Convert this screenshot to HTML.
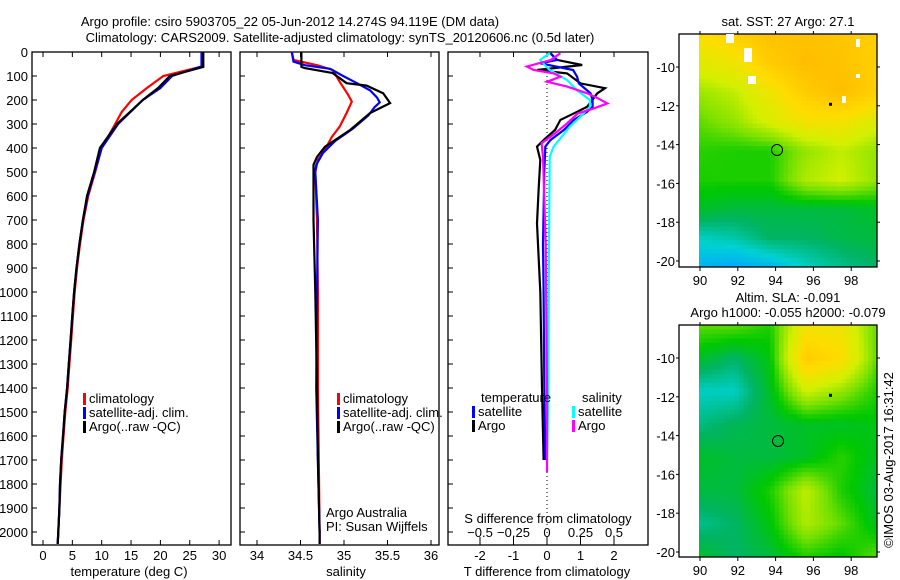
<!DOCTYPE html>
<html><head><meta charset="utf-8">
<style>
html,body{margin:0;padding:0;background:#fff;}
svg{display:block;font-family:"Liberation Sans",sans-serif;}
text{font-size:13px;fill:#000;}
</style></head>
<body>
<svg id="fig" width="900" height="580" viewBox="0 0 900 580">
<text x="290" y="26" text-anchor="middle">Argo profile: csiro 5903705_22 05-Jun-2012 14.274S 94.119E (DM data)</text>
<text x="340" y="42" text-anchor="middle">Climatology: CARS2009. Satellite-adjusted climatology: synTS_20120606.nc (0.5d later)</text>
<g id="g"></g>
</svg>
<script>
// ---- data ----
const tempClimDepth=[0,60,100,150,200,250,300,400,500,600,700,800,900,1000,1100,1200,1300,1400,1500,1600,1700,1800,1900,2000,2050];
const tempClimVal=[27.1,27.1,20.5,17.7,15.1,13.4,12.3,10,8.9,7.7,6.9,6.3,5.8,5.4,5.1,4.8,4.5,4.2,3.8,3.5,3.2,3.0,2.8,2.6,2.5];
const tempSatDepth=[0,60,100,150,200,300,400,500,600,700,800,900,1000,1100,1200,1300,1400,1500,1600,1700,1800,1900,2000,2050];
const tempSatVal=[27.0,27.0,22,20,17,12.8,10,8.8,7.6,6.8,6.2,5.7,5.3,5.0,4.7,4.4,4.1,3.7,3.4,3.1,2.9,2.8,2.6,2.5];
const tempArgoDepth=[0,62,100,150,200,300,400,500,600,700,800,900,1000,1100,1200,1300,1400,1500,1600,1700,1800,1900,2000,2050];
const tempArgoVal=[27.3,27.3,21.6,19.6,17,12.6,9.7,8.7,7.5,6.8,6.2,5.7,5.3,5.0,4.7,4.4,4.1,3.7,3.4,3.1,2.9,2.8,2.6,2.5];

const salClimDepth=[0,33,55,75,124,179,207,254,311,354,408,450,500,700,1000,1400,1700,2000,2050];
const salClimVal=[34.40,34.42,34.69,34.87,34.95,35.05,35.09,35.03,34.95,34.86,34.78,34.70,34.67,34.69,34.70,34.70,34.71,34.72,34.72];
const salSatDepth=[0,40,55,70,100,130,160,190,210,230,264,320,370,420,470,500,700,1000,1400,1700,2000,2050];
const salSatVal=[34.40,34.42,34.55,34.84,34.99,35.15,35.30,35.38,35.41,35.35,35.28,35.10,34.90,34.76,34.68,34.67,34.70,34.69,34.68,34.70,34.72,34.72];
const salArgoDepth=[0,62,67,88,130,140,172,213,254,325,395,437,470,700,1000,1400,1700,2000,2050];
const salArgoVal=[34.51,34.51,34.55,34.87,35.03,35.26,35.45,35.53,35.30,35.07,34.78,34.69,34.65,34.65,34.67,34.69,34.70,34.72,34.72];

const dTSatDepth=[5,33,47,75,103,131,172,200,228,249,283,325,367,394,500,800,1000,1400,1700];
const dTSatVal=[0.1,0.3,-0.2,0.78,0.9,0.95,1.3,1.36,1.36,1.2,0.8,0.5,0.1,-0.05,-0.08,-0.12,-0.1,-0.08,-0.05];
const dTArgoDepth=[5,33,54,75,89,131,151,172,228,249,283,325,367,394,450,575,714,1000,1400,1700];
const dTArgoVal=[0.1,0.3,1.05,-0.3,0.6,1.0,1.73,1.5,1.2,0.9,0.4,0.24,-0.1,-0.3,-0.2,-0.25,-0.3,-0.2,-0.15,-0.1];
const dSSatDepth=[5,33,47,75,117,158,200,228,269,311,353,394,436,800,1400,1750];
const dSSatVal=[0.02,-0.05,-0.03,0.02,0.15,0.22,0.32,0.32,0.25,0.17,0.11,0.05,0.02,0.015,0.01,0.0];
const dSArgoDepth=[5,33,61,75,89,103,124,144,172,193,214,235,256,297,339,380,436,800,1400,1750];
const dSArgoVal=[0.1,0.03,-0.15,-0.1,0.05,0.1,0.0,0.15,0.3,0.38,0.45,0.35,0.23,0.15,0.06,-0.04,-0.03,-0.01,0.0,0.0];

const tempTicks=[0,5,10,15,20,25,30];
const salTicks=[34,34.5,35,35.5,36];
const dTTicks=[-2,-1,0,1,2];
const dSTicks=[-0.5,-0.25,0,0.25,0.5];
const depthTicks=[0,100,200,300,400,500,600,700,800,900,1000,1100,1200,1300,1400,1500,1600,1700,1800,1900,2000];
const latTicks=[-10,-12,-14,-16,-18,-20];
const lonTicks=[90,92,94,96,98];

const sstGrid=[
[0.74,0.80,0.86,0.86,0.84,0.80],
[0.66,0.70,0.82,0.88,0.86,0.80],
[0.56,0.60,0.70,0.82,0.88,0.80],
[0.50,0.55,0.64,0.72,0.72,0.65],
[0.46,0.45,0.45,0.55,0.60,0.55],
[0.45,0.45,0.45,0.58,0.62,0.55],
[0.40,0.38,0.38,0.38,0.38,0.40],
[0.28,0.30,0.35,0.35,0.37,0.38],
[0.22,0.20,0.22,0.28,0.32,0.35]];
const slaGrid=[
[0.50,0.50,0.45,0.70,0.70,0.50],
[0.40,0.35,0.42,0.82,0.75,0.50],
[0.28,0.28,0.40,0.62,0.55,0.45],
[0.33,0.36,0.38,0.40,0.40,0.42],
[0.40,0.38,0.38,0.40,0.46,0.40],
[0.38,0.38,0.45,0.60,0.45,0.38],
[0.32,0.35,0.42,0.58,0.50,0.40],
[0.40,0.35,0.38,0.45,0.42,0.50]];

const NS='http://www.w3.org/2000/svg';
const G=document.getElementById('g');
function el(tag,attrs,parent,txt){const e=document.createElementNS(NS,tag);for(const k in attrs)e.setAttribute(k,attrs[k]);if(txt!==undefined)e.textContent=txt;(parent||G).appendChild(e);return e;}
const TOP=52,BOT=545;
function yDepth(d){return TOP+d*0.24;}

function frame(x0,x1,name){
  const r=el('rect',{x:x0,y:TOP,width:x1-x0,height:BOT-TOP,fill:'none',stroke:'#000','stroke-width':1.3});
  
  
}
function depthAxis(x0,x1,labels){
  depthTicks.forEach(d=>{
    const y=yDepth(d);
    el('line',{x1:x0,y1:y,x2:x0+5,y2:y,stroke:'#000','stroke-width':1});
    if(labels){const t=el('text',{x:x0-4,y:y+5,'text-anchor':'end'},G,String(d));
      
      }
  });
}
function xAxis(ticks,sx,labelY,fmt,bottomTicks,topTicks){
  ticks.forEach(v=>{
    const x=sx(v);
    if(bottomTicks){el('line',{x1:x,y1:BOT,x2:x,y2:BOT-5,stroke:'#000'});}
    if(topTicks){el('line',{x1:x,y1:TOP,x2:x,y2:TOP+5,stroke:'#000'});}
    const t=el('text',{x:x,y:labelY,'text-anchor':'middle'},G,fmt?fmt(v):String(v));
    
    
  });
}
function series(depths,vals,sx,color,name){
  let pts=depths.map((d,i)=>sx(vals[i]).toFixed(1)+','+yDepth(d).toFixed(1)).join(' ');
  const p=el('polyline',{points:pts,fill:'none',stroke:color,'stroke-width':2.2});
  
  
}
function legend(x,y,color,label,name){
  el('rect',{x:x,y:y-10,width:3,height:12,fill:color});
  const t=el('text',{x:x+6,y:y},G,label);
  
  
}

const sxT=v=>43+v*5.87;
frame(32,231,'temperature-panel');
depthAxis(32,231,true);
xAxis(tempTicks,sxT,560,null,true,true);
series(tempClimDepth,tempClimVal,sxT,'#ff0000','temp-climatology-line');
series(tempSatDepth,tempSatVal,sxT,'#0000ff','temp-satellite-line');
series(tempArgoDepth,tempArgoVal,sxT,'#000000','temp-argo-line');
legend(83,403,'#ff0000','climatology','legend-climatology');
legend(83,417,'#0000ff','satellite-adj. clim.','legend-satellite');
legend(83,431,'#000000','Argo(..raw -QC)','legend-argo');
{const t=el('text',{x:129,y:576,'text-anchor':'middle'},G,'temperature (deg C)');}

const sxS=v=>257+(v-34)*87;
frame(240,439,'salinity-panel');
depthAxis(240,439,false);
xAxis(salTicks,sxS,560,null,true,true);
series(salClimDepth,salClimVal,sxS,'#ff0000','sal-climatology-line');
series(salSatDepth,salSatVal,sxS,'#0000ff','sal-satellite-line');
series(salArgoDepth,salArgoVal,sxS,'#000000','sal-argo-line');
legend(337,403,'#ff0000','climatology','legend-climatology-2');
legend(337,417,'#0000ff','satellite-adj. clim.','legend-satellite-2');
legend(337,431,'#000000','Argo(..raw -QC)','legend-argo-2');
{const t=el('text',{x:326,y:517},G,'Argo Australia');}
{const t=el('text',{x:326,y:531},G,'PI: Susan Wijffels');}
{const t=el('text',{x:346,y:576,'text-anchor':'middle'},G,'salinity');}

const sxDT=v=>547+v*33.5;
const sxDS=v=>547+v*134;
frame(448,648,'difference-panel');
depthAxis(448,648,false);
el('line',{x1:547,y1:TOP,x2:547,y2:BOT,stroke:'#000','stroke-width':1,'stroke-dasharray':'1,3'});
xAxis(dTTicks,sxDT,560,null,true,true);
dSTicks.forEach(v=>{const x=sxDS(v);el('line',{x1:x,y1:BOT-3,x2:x,y2:BOT-8,stroke:'#000'});
  const t=el('text',{x:x,y:537,'text-anchor':'middle'},G,String(v).replace('-','\u2212'));
  
  });
series(dTArgoDepth,dTArgoVal,sxDT,'#000000','dT-argo-line');
series(dTSatDepth,dTSatVal,sxDT,'#0000ff','dT-satellite-line');
series(dSSatDepth,dSSatVal,sxDS,'#00ffff','dS-satellite-line');
series(dSArgoDepth,dSArgoVal,sxDS,'#ff00ff','dS-argo-line');
{const t=el('text',{x:481,y:402},G,'temperature');}
{const t=el('text',{x:582,y:402},G,'salinity');}
legend(472,416,'#0000ff','satellite','legend-dT-satellite');
legend(472,430,'#000000','Argo','legend-dT-argo');
legend(572,416,'#00ffff','satellite','legend-dS-satellite');
legend(572,430,'#ff00ff','Argo','legend-dS-argo');
{const t=el('text',{x:548,y:523,'text-anchor':'middle'},G,'S difference from climatology');}
{const t=el('text',{x:547,y:576,'text-anchor':'middle'},G,'T difference from climatology');}

const stops=[[0.10,[0,110,255]],[0.20,[0,170,255]],[0.27,[0,210,210]],[0.35,[0,180,100]],[0.43,[0,200,0]],[0.52,[120,225,0]],[0.62,[210,240,0]],[0.75,[255,220,0]],[0.90,[255,185,0]]];
function cmap(v){
  if(v<=stops[0][0])return stops[0][1];
  for(let i=1;i<stops.length;i++){if(v<=stops[i][0]){const a=stops[i-1],b=stops[i],f=(v-a[0])/(b[0]-a[0]);return a[1].map((c,k)=>Math.round(c+(b[1][k]-c)*f));}}
  return stops[stops.length-1][1];
}
function sample(grid,u,v){
  const R=grid.length-1,C=grid[0].length-1;
  const fy=v*R,fx=u*C;const r=Math.min(Math.floor(fy),R-1),c=Math.min(Math.floor(fx),C-1);
  const ty=fy-r,tx=fx-c;
  const a=grid[r][c]*(1-tx)+grid[r][c+1]*tx,b=grid[r+1][c]*(1-tx)+grid[r+1][c+1]*tx;
  return a*(1-ty)+b*ty;
}
const lonX=lon=>700+(lon-90)*18.9;
function drawMap(grid,top,bot,name,latY,cx,cy,cell){
  const x0=679,x1=877,ix0=699;
  const g=el('g',{});
  
  
  const nx=Math.round((x1-ix0)/cell),ny=Math.round((bot-top)/cell);
  const cw=(x1-ix0)/nx,ch=(bot-top)/ny;
  for(let j=0;j<ny;j++)for(let i=0;i<nx;i++){
    const val=sample(grid,(i+0.5)/nx,(j+0.5)/ny);
    const c=cmap(val);
    el('rect',{x:(ix0+i*cw).toFixed(2),y:(top+j*ch).toFixed(2),width:(cw+0.4).toFixed(2),height:(ch+0.4).toFixed(2),fill:'rgb('+c.join(',')+')'},g);
  }
  el('rect',{x:x0,y:top,width:x1-x0,height:bot-top,fill:'none',stroke:'#000','stroke-width':1.3},g);
  latTicks.forEach(lat=>{const y=latY(lat);el('line',{x1:x0-3,y1:y,x2:x0,y2:y,stroke:'#000'},g);el('line',{x1:x1,y1:y,x2:x1+3,y2:y,stroke:'#000'},g);
    const t=el('text',{x:x0-4,y:y+5,'text-anchor':'end'},g,String(lat));
    
    });
  lonTicks.forEach(lon=>{const x=lonX(lon);el('line',{x1:x,y1:top,x2:x,y2:top-3,stroke:'#000'},g);el('line',{x1:x,y1:bot,x2:x,y2:bot+4,stroke:'#000'},g);
    const t=el('text',{x:x,y:bot+18,'text-anchor':'middle'},g,String(lon));
    
    });
  el('circle',{cx:cx,cy:cy,r:5.5,fill:'none',stroke:'#000','stroke-width':1},g);
  el('rect',{x:829,y:latY(-12)-3,width:3,height:3,fill:'#000'},g);
}
drawMap(sstGrid,34,267,'sst-map',lat=>67+(-10-lat)*19.4,777,150,4.5);
drawMap(slaGrid,325,557,'sla-map',lat=>358+(-10-lat)*19.4,778,441,4.5);
[[726,34,8,9],[744,48,8,14],[748,76,8,8],[856,39,4,8],[842,96,4,7],[856,74,4,4]].forEach(r=>el('rect',{x:r[0],y:r[1],width:r[2],height:r[3],fill:'#fff'}));
{const t=el('text',{x:788,y:26,'text-anchor':'middle'},G,'sat. SST: 27 Argo: 27.1');}
{const t=el('text',{x:788,y:302,'text-anchor':'middle'},G,'Altim. SLA: -0.091');}
{const t=el('text',{x:788,y:317,'text-anchor':'middle'},G,'Argo h1000: -0.055 h2000: -0.079');}
{const t=el('text',{x:0,y:0,'text-anchor':'middle',transform:'translate(893,460) rotate(-90)'},G,'\u00A9IMOS 03-Aug-2017 16:31:42');}
</script>
</body></html>
